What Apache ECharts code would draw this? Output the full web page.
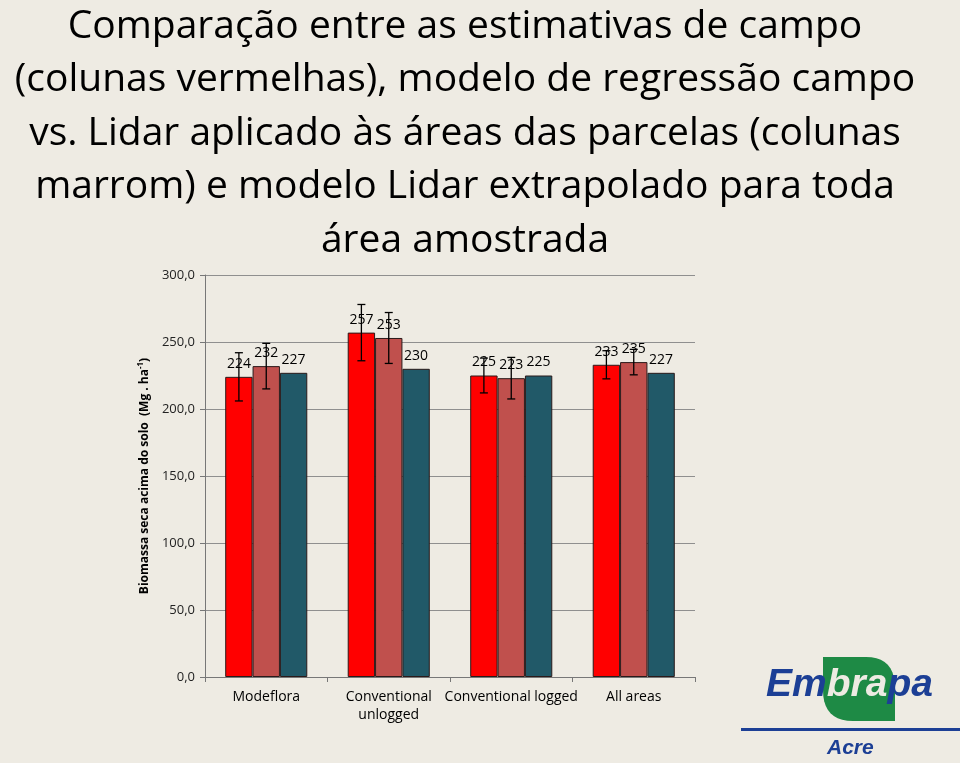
<!DOCTYPE html>
<html>
<head>
<meta charset="utf-8">
<script src="https://cdn.jsdelivr.net/npm/echarts@6/dist/echarts.min.js"></script>
<style>
html,body{margin:0;padding:0;background:#EEEBE3;}
#c{width:960px;height:763px;}
</style>
</head>
<body>
<div id="c"></div>
<script>
const categories = ['Modeflora', 'Conventional\nunlogged', 'Conventional logged', 'All areas'];
const fieldValues = [224, 257, 225, 233];
const fieldErrors = [18, 21, 13, 10.5];
const plotModelValues = [232, 253, 223, 235];
const plotModelErrors = [17, 19, 15.5, 9.5];
const extrapolatedValues = [227, 230, 225, 227];
const yTicks = [0, 50, 100, 150, 200, 250, 300];

const titleText = 'Comparação entre as estimativas de campo\n(colunas vermelhas), modelo de regressão campo\nvs. Lidar aplicado às áreas das parcelas (colunas\nmarrom) e modelo Lidar extrapolado para toda\nárea amostrada';

const chart = echarts.init(document.getElementById('c'));
const catGap = 0.33;
const nBars = 3;

function errorSeries(values, errors, barIndex) {
  return {
    type: 'custom',
    z: 5,
    silent: true,
    data: values.map((v, i) => [i, v - errors[i], v + errors[i]]),
    renderItem: function (params, api) {
      const band = api.size([1, 0])[0];
      const bw = band * (1 - catGap) / nBars;
      const center = api.coord([api.value(0), 0])[0];
      const x = center - (nBars * bw) / 2 + bw * (barIndex + 0.5);
      const lo = api.coord([api.value(0), api.value(1)])[1];
      const hi = api.coord([api.value(0), api.value(2)])[1];
      const cap = 4;
      const st = { stroke: '#000', lineWidth: 1.3 };
      return {
        type: 'group',
        children: [
          { type: 'line', shape: { x1: x, y1: lo, x2: x, y2: hi }, style: st },
          { type: 'line', shape: { x1: x - cap, y1: lo, x2: x + cap, y2: lo }, style: st },
          { type: 'line', shape: { x1: x - cap, y1: hi, x2: x + cap, y2: hi }, style: st }
        ]
      };
    }
  };
}

function barSeries(values, color) {
  return {
    type: 'bar',
    data: values,
    barGap: '0%',
    barCategoryGap: (catGap * 100) + '%',
    itemStyle: { color: color, borderColor: '#2a1a1a', borderWidth: 1 },
    label: {
      show: true, position: 'top', distance: 6,
      color: '#000', fontSize: 14, fontFamily: 'Open Sans',
      formatter: p => String(p.value)
    }
  };
}

// leaf outline for the logo (decorative)
function leafPoints() {
  const pts = [[823, 657], [866, 657]];
  for (let t = 0.1; t <= 1.0001; t += 0.1) {
    const a = (1 - t) * (1 - t), b = 2 * t * (1 - t), c = t * t;
    pts.push([a * 866 + b * 895 + c * 895, a * 657 + b * 657 + c * 688]);
  }
  pts.push([895, 721], [853, 721]);
  for (let t = 0.1; t <= 1.0001; t += 0.1) {
    const a = (1 - t) * (1 - t), b = 2 * t * (1 - t), c = t * t;
    pts.push([a * 853 + b * 823 + c * 823, a * 721 + b * 721 + c * 690]);
  }
  return pts;
}

chart.setOption({
  backgroundColor: '#EEEBE3',
  animation: false,
  title: {
    text: titleText,
    left: 460,
    textAlign: 'center',
    top: -5,
    textStyle: {
      fontFamily: 'Open Sans', fontSize: 39, fontWeight: 'normal',
      color: '#000', lineHeight: 53.5
    }
  },
  grid: { left: 205, right: 265, top: 275, bottom: 86 },
  xAxis: {
    type: 'category',
    data: categories,
    axisLine: { lineStyle: { color: '#777', width: 1 } },
    axisTick: { show: true, alignWithLabel: false, length: 5, lineStyle: { color: '#777' } },
    axisLabel: { color: '#000', fontSize: 14, fontFamily: 'Open Sans', margin: 11, lineHeight: 18, interval: 0 }
  },
  yAxis: {
    type: 'value',
    min: 0, max: 300, interval: 50,
    name: 'Biomassa seca acima do solo  (Mg . ha{sup|-1})',
    nameLocation: 'middle',
    nameGap: 50,
    nameRotate: 90,
    nameTextStyle: {
      fontFamily: 'Open Sans', fontSize: 12, fontWeight: 'bold', color: '#000',
      rich: { sup: { fontSize: 8, fontWeight: 'bold', verticalAlign: 'top', padding: [0, 0, 8, 0], color: '#000' } }
    },
    axisLine: { show: true, lineStyle: { color: '#777' } },
    axisTick: { show: true, length: 5, lineStyle: { color: '#777' } },
    axisLabel: {
      color: '#222', fontSize: 13, fontFamily: 'Open Sans', margin: 10,
      formatter: v => v.toFixed(1).replace('.', ',')
    },
    splitLine: { show: true, lineStyle: { color: '#8f8f8f', width: 1 } }
  },
  series: [
    barSeries(fieldValues, '#FF0000'),
    barSeries(plotModelValues, '#C0504D'),
    barSeries(extrapolatedValues, '#215968'),
    errorSeries(fieldValues, fieldErrors, 0),
    errorSeries(plotModelValues, plotModelErrors, 1)
  ],
  graphic: [
    {
      type: 'polygon',
      shape: { points: leafPoints() },
      style: { fill: '#1E8A45' }
    },
    {
      type: 'text',
      x: 766, y: 666,
      style: {
        text: '{b|Em}{w|bra}{b|pa}',
        rich: {
          b: { fill: '#1C3F95', fontStyle: 'italic', fontWeight: 'bold', fontSize: 39, fontFamily: 'Liberation Sans' },
          w: { fill: '#EEEBE3', fontStyle: 'italic', fontWeight: 'bold', fontSize: 39, fontFamily: 'Liberation Sans' }
        }
      }
    },
    {
      type: 'rect',
      shape: { x: 741, y: 728, width: 219, height: 3 },
      style: { fill: '#1C3F95' }
    },
    {
      type: 'text',
      x: 827, y: 738,
      style: { text: 'Acre', fill: '#1C3F95', fontStyle: 'italic', fontWeight: 'bold', fontSize: 21, fontFamily: 'Liberation Sans' }
    }
  ]
});
</script>
</body>
</html>
